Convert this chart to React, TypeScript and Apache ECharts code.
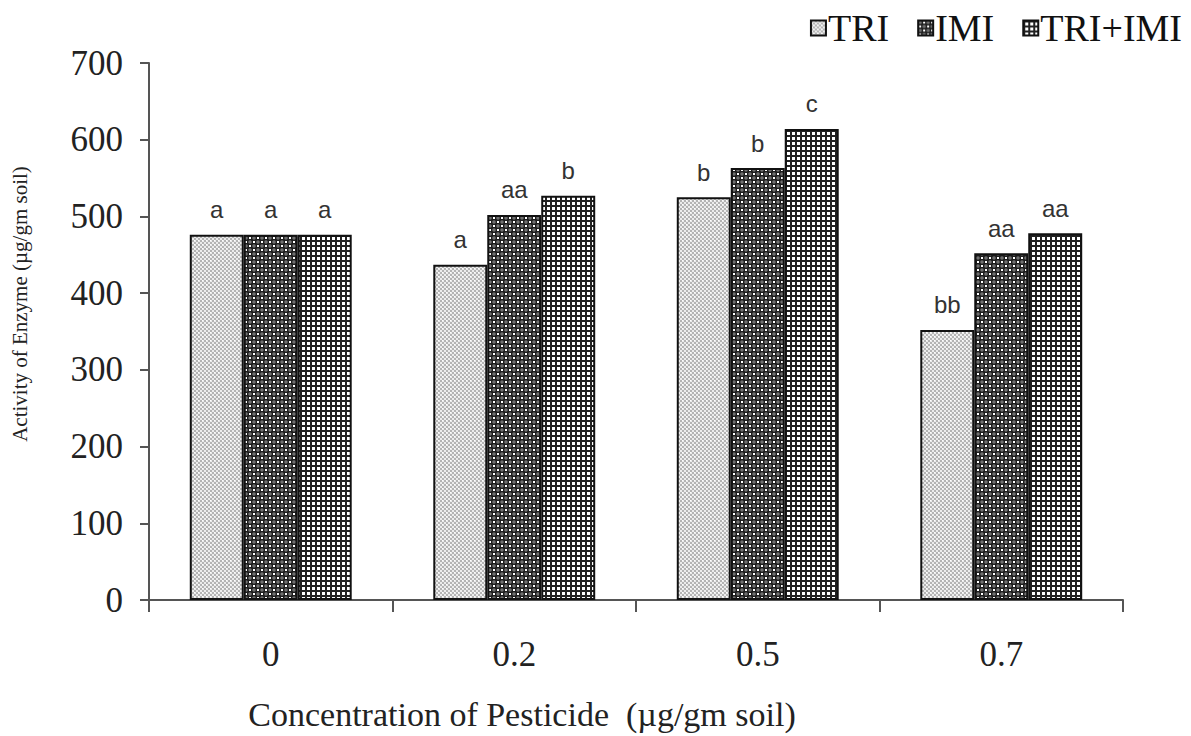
import React, { useEffect, useRef } from "react";
import * as echarts from "echarts";

const categories = ["0", "0.2", "0.5", "0.7"];
const seriesNames = ["TRI", "IMI", "TRI+IMI"];
const triValues = [476, 437, 525, 352];
const imiValues = [476, 502, 563, 452];
const triImiValues = [476, 527, 614, 478];
const triLetters = ["a", "a", "b", "bb"];
const imiLetters = ["a", "aa", "b", "aa"];
const triImiLetters = ["a", "b", "c", "aa"];
const yTicks = { min: 0, max: 700, interval: 100 };

function makeTile(size: number, draw: (ctx: CanvasRenderingContext2D) => void) {
  const c = document.createElement("canvas");
  c.width = size;
  c.height = size;
  const ctx = c.getContext("2d")!;
  draw(ctx);
  return { image: c.toDataURL(), repeat: "repeat", imageWidth: size, imageHeight: size } as any;
}

export default function App() {
  const ref = useRef<HTMLDivElement>(null);
  useEffect(() => {
    if (!ref.current) return;
    const chart = echarts.init(ref.current, null, { renderer: "svg" });

    const triPat = makeTile(4, (ctx) => {
      ctx.fillStyle = "#ececec";
      ctx.fillRect(0, 0, 4, 4);
      ctx.fillStyle = "#b4b4b4";
      ctx.fillRect(0, 0, 2, 2);
      ctx.fillRect(2, 2, 2, 2);
      ctx.fillStyle = "#ffffff";
      ctx.fillRect(2, 0, 1, 1);
    });
    const imiPat = makeTile(8, (ctx) => {
      ctx.fillStyle = "#1c1c1c";
      ctx.fillRect(0, 0, 8, 8);
      ctx.fillStyle = "#707070";
      ctx.beginPath();
      ctx.arc(2, 2, 1.8, 0, Math.PI * 2);
      ctx.fill();
      ctx.beginPath();
      ctx.arc(6, 6, 1.8, 0, Math.PI * 2);
      ctx.fill();
      ctx.fillStyle = "#ffffff";
      ctx.fillRect(5, 1, 2, 2);
      ctx.fillRect(1, 5, 2, 2);
    });
    const mixPat = makeTile(5, (ctx) => {
      ctx.fillStyle = "#ffffff";
      ctx.fillRect(0, 0, 5, 5);
      ctx.fillStyle = "#222222";
      ctx.fillRect(0, 0, 5, 2);
      ctx.fillRect(0, 0, 2, 5);
    });

    const pats = [triPat, imiPat, mixPat];
    const vals = [triValues, imiValues, triImiValues];
    const letters = [triLetters, imiLetters, triImiLetters];

    const serif = "'Liberation Serif', 'Times New Roman', serif";
    const sans = "'Liberation Sans', Arial, sans-serif";

    chart.setOption({
      animation: false,
      backgroundColor: "#ffffff",
      grid: { left: 149, right: 68, top: 63, bottom: 136, containLabel: false },
      legend: {
        right: 4,
        top: 4,
        icon: "rect",
        itemWidth: 15,
        itemHeight: 15,
        itemGap: 28,
        textStyle: { fontFamily: serif, fontSize: 38, color: "#111", padding: [0, 0, 0, -3] },
        data: seriesNames,
      },
      xAxis: {
        type: "category",
        data: categories,
        axisLine: { lineStyle: { color: "#555", width: 2 } },
        axisTick: { show: true, length: 12, lineStyle: { color: "#555", width: 2 } },
        axisLabel: { fontFamily: serif, fontSize: 35, color: "#222", margin: 37 },
      },
      yAxis: {
        type: "value",
        min: yTicks.min,
        max: yTicks.max,
        interval: yTicks.interval,
        axisLine: { show: true, lineStyle: { color: "#555", width: 2 } },
        axisTick: { show: true, length: 9, lineStyle: { color: "#555", width: 2 } },
        axisLabel: { fontFamily: serif, fontSize: 35, color: "#222", margin: 26 },
        splitLine: { show: false },
      },
      graphic: [
        {
          type: "text",
          x: 20,
          y: 304,
          rotation: Math.PI / 2,
          style: {
            text: "Activity of Enzyme (µg/gm soil)",
            fontFamily: serif,
            fontSize: 21,
            fill: "#222",
            align: "center",
            verticalAlign: "middle",
          },
        },
        {
          type: "text",
          x: 522,
          y: 714,
          style: {
            text: "Concentration of Pesticide  (µg/gm soil)",
            fontFamily: serif,
            fontSize: 34,
            fill: "#222",
            align: "center",
            verticalAlign: "middle",
          },
        },
      ],
      series: seriesNames.map((name, i) => ({
        name,
        type: "bar",
        data: vals[i],
        barGap: "0%",
        barCategoryGap: "33.5%",
        itemStyle: { color: pats[i], borderColor: "#111", borderWidth: 2 },
        label: {
          show: true,
          position: "top",
          distance: 13,
          fontFamily: sans,
          fontSize: 24,
          color: "#333",
          formatter: (p: any) => letters[i][p.dataIndex],
        },
      })),
    });
    return () => chart.dispose();
  }, []);
  return (
    <div
      ref={ref}
      style={{ position: "absolute", left: 0, top: 0, width: 1191, height: 736 }}
    />
  );
}
